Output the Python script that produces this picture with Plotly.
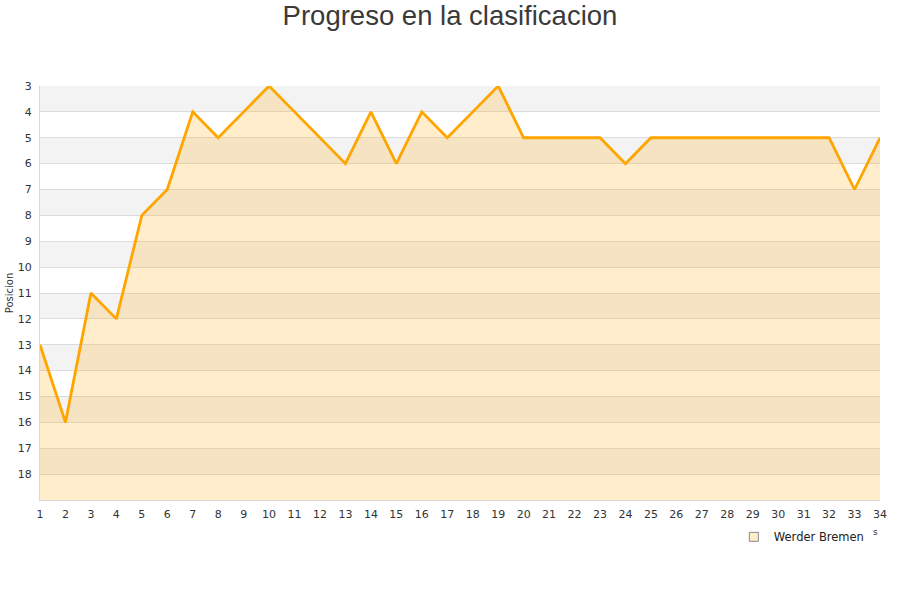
import plotly.graph_objects as go

jornadas = list(range(1, 35))
posiciones = [13, 16, 11, 12, 8, 7, 4, 5, 4, 3, 4, 5, 6, 4, 6, 4, 5, 4, 3, 5,
              5, 5, 5, 6, 5, 5, 5, 5, 5, 5, 5, 5, 7, 5]
y_ticks = list(range(3, 19))
team = "Werder Bremen"

fig = go.Figure()

# baseline for fill
fig.add_trace(go.Scatter(x=jornadas, y=[19] * len(jornadas), mode="lines",
                         line=dict(width=0), showlegend=False, hoverinfo="skip"))
fig.add_trace(go.Scatter(x=jornadas, y=posiciones, mode="lines",
                         line=dict(color="#ffa500", width=2.8),
                         fill="tonexty", fillcolor="rgba(255,165,0,0.2)",
                         showlegend=False, name=team))
fig.add_trace(go.Scatter(x=[None], y=[None], mode="markers", name=team,
                         marker=dict(symbol="square", size=9, color="#feeccb",
                                     line=dict(color="#888888", width=1))))

shapes = []
for lo in range(3, 19, 2):
    shapes.append(dict(type="rect", xref="paper", yref="y", x0=0, x1=1, y0=lo, y1=lo + 1,
                       fillcolor="#f3f3f3", line=dict(width=0), layer="below"))
fig.update_layout(shapes=shapes)

fig.update_layout(
    width=900, height=600,
    paper_bgcolor="white", plot_bgcolor="white",
    margin=dict(l=40, r=20, t=86, b=100, autoexpand=False),
    title=dict(text="Progreso en la clasificacion", x=0.5, xanchor="center", y=0.975, yanchor="middle",
               font=dict(family="Liberation Sans, Arial", size=27.5, color="#3a3a3a")),
    font=dict(family="DejaVu Sans", size=11, color="#333333"),
    xaxis=dict(range=[1, 34], tickmode="array", tickvals=jornadas, showgrid=False,
               zeroline=False, showline=True, linecolor="#d8d8d8", ticks="",
               ticklabelstandoff=4,
               automargin=False, tickfont=dict(size=11, color="#333333")),
    yaxis=dict(range=[19, 3], tickmode="array", tickvals=y_ticks, showgrid=True,
               gridcolor="#dcdcdc", zeroline=False, showline=True, linecolor="#d8d8d8",
               ticks="", automargin=False, ticklabelstandoff=5,
               tickfont=dict(size=11, color="#333333"),
               title=dict(text="Posicion", font=dict(size=10, color="#333333"), standoff=2)),
    legend=dict(x=0.826, y=-0.089, xanchor="left", yanchor="middle",
                bgcolor="rgba(0,0,0,0)", font=dict(size=11.5, color="#222222"),
                itemwidth=30),
    annotations=[dict(text="s", xref="paper", yref="paper", x=1.0, y=-0.094,
                      showarrow=False, font=dict(size=9, color="#333333"))],
)

fig.write_html("out.html", post_script="document.body.style.margin='0';",
               config={"displayModeBar": False})
